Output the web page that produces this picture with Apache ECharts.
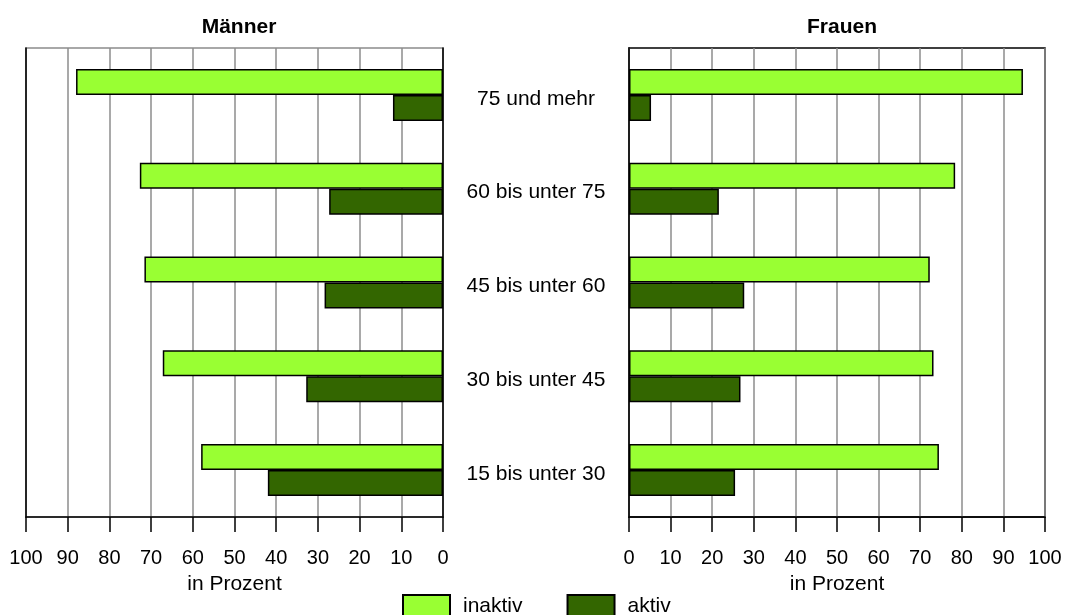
<!DOCTYPE html>
<html>
<head>
<meta charset="utf-8">
<script src="https://cdn.jsdelivr.net/npm/echarts@6/dist/echarts.min.js"></script>
<style>html,body{margin:0;padding:0;background:#fff;}#chart{width:1065px;height:615px;}</style>
</head>
<body>
<div id="chart"></div>
<script>
var categories = ['15 bis unter 30', '30 bis unter 45', '45 bis unter 60', '60 bis unter 75', '75 und mehr'];
var maennerInaktiv = [58, 67.2, 71.6, 72.7, 88];
var maennerAktiv = [42, 32.8, 28.4, 27.3, 12];
var frauenInaktiv = [74.5, 73.2, 72.3, 78.4, 94.7];
var frauenAktiv = [25.5, 26.8, 27.7, 21.6, 5.3];
var xTicks = [0, 10, 20, 30, 40, 50, 60, 70, 80, 90, 100];

var FONT = 'Liberation Sans, Arial, sans-serif';
var LIGHT = '#99ff33', DARK = '#336600';

var chart = echarts.init(document.getElementById('chart'));

function valueAxis(gridIndex, inverse) {
  return {
    type: 'value', gridIndex: gridIndex, min: 0, max: 100, interval: 10, inverse: inverse,
    name: 'in Prozent', nameLocation: 'middle', nameGap: 57,
    nameTextStyle: { fontFamily: FONT, fontSize: 21, color: '#000' },
    axisLine: { show: true, lineStyle: { color: '#000', width: 1.5 } },
    axisTick: { show: true, length: 15, lineStyle: { color: '#000', width: 1.5 } },
    axisLabel: { fontFamily: FONT, fontSize: 20, color: '#000', margin: 31,
      formatter: function (v) { return xTicks.indexOf(v) >= 0 ? String(v) : ''; } },
    splitLine: { show: true, lineStyle: { color: '#8c8c8c', width: 1.5 } }
  };
}

function barSeries(name, data, xi, color) {
  return {
    name: name, type: 'bar', xAxisIndex: xi, yAxisIndex: xi, data: data,
    barWidth: 26, barGap: '0%',
    itemStyle: { color: color, borderColor: '#000', borderWidth: 1.5 },
    emphasis: { disabled: true }
  };
}

chart.setOption({
  animation: false,
  backgroundColor: '#fff',
  title: [
    { text: 'Männer', left: 234, top: 12, textAlign: 'center',
      textStyle: { fontFamily: FONT, fontSize: 21, fontWeight: 'bold', color: '#000' } },
    { text: 'Frauen', left: 837, top: 12, textAlign: 'center',
      textStyle: { fontFamily: FONT, fontSize: 21, fontWeight: 'bold', color: '#000' } }
  ],
  legend: {
    data: ['inaktiv', 'aktiv'], left: 402, top: 594, padding: 0,
    itemWidth: 47, itemHeight: 22, itemGap: 44,
    icon: 'rect',
    textStyle: { fontFamily: FONT, fontSize: 21, color: '#000', padding: [0, 0, 0, 8] }
  },
  grid: [
    { left: 26, top: 48, width: 417, height: 469, show: true, borderColor: '#8c8c8c', borderWidth: 1.5 },
    { left: 629, top: 48, width: 416, height: 469, show: true, borderColor: '#000', borderWidth: 1.5 }
  ],
  xAxis: [ valueAxis(0, true), valueAxis(1, false) ],
  yAxis: [
    { type: 'category', gridIndex: 0, data: categories, position: 'right',
      axisLine: { show: true, lineStyle: { color: '#000', width: 1.5 } },
      axisTick: { show: false }, axisLabel: { show: false }, splitLine: { show: false } },
    { type: 'category', gridIndex: 1, data: categories, position: 'left',
      axisLine: { show: true, lineStyle: { color: '#000', width: 1.5 } },
      axisTick: { show: false },
      axisLabel: { show: true, color: '#000', align: 'center', margin: 93,
        formatter: function (v) { return '{c|' + v + '}'; },
        rich: { c: { fontFamily: FONT, fontSize: 21, color: '#000', padding: [8, 0, 0, 0] } } },
      splitLine: { show: false } },
    { type: 'category', gridIndex: 0, data: categories, position: 'left',
      axisLine: { show: true, lineStyle: { color: '#000', width: 1.5 } },
      axisTick: { show: false }, axisLabel: { show: false }, splitLine: { show: false } }
  ],
  series: [
    barSeries('inaktiv', maennerInaktiv, 0, LIGHT),
    barSeries('aktiv', maennerAktiv, 0, DARK),
    barSeries('inaktiv', frauenInaktiv, 1, LIGHT),
    barSeries('aktiv', frauenAktiv, 1, DARK)
  ]
});
</script>
</body>
</html>
